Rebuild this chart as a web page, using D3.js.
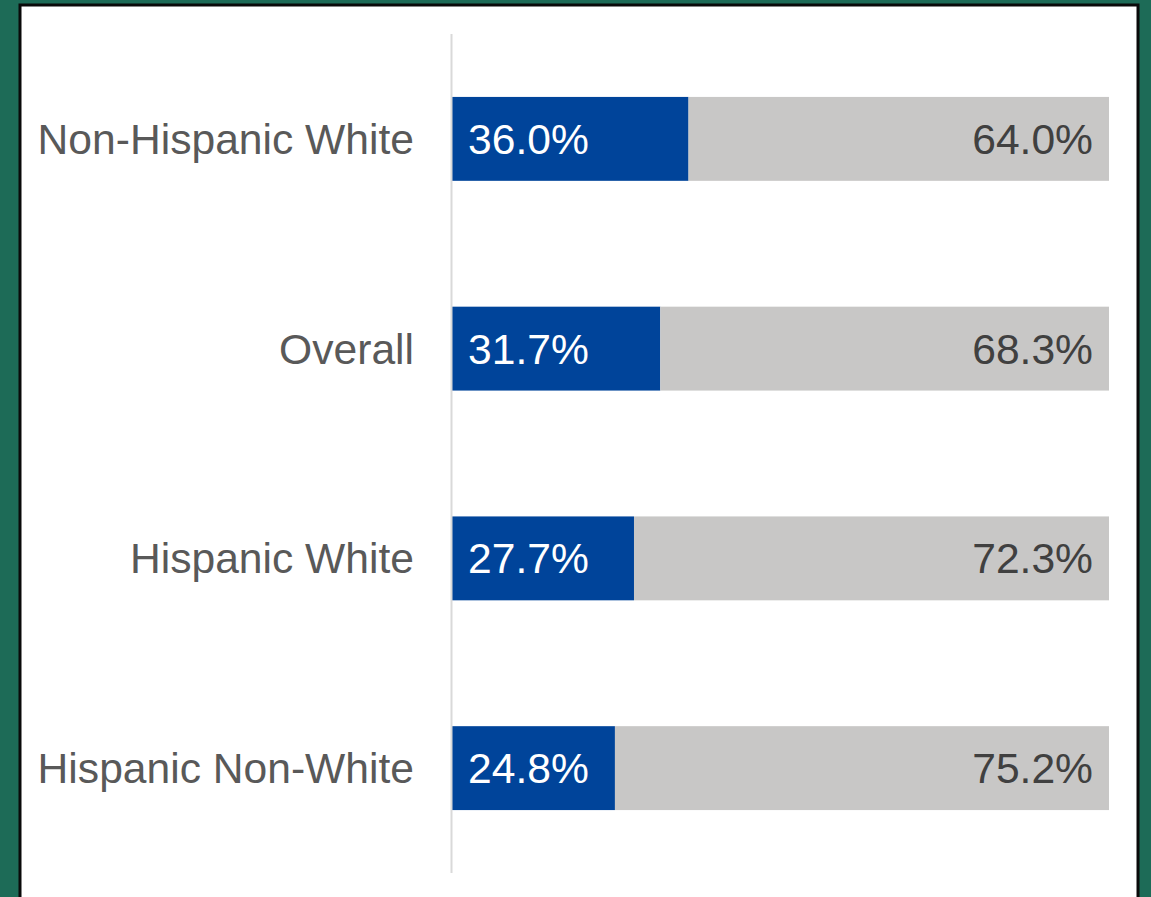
<!DOCTYPE html>
<html><head><meta charset="utf-8">
<script src="https://cdn.jsdelivr.net/npm/d3@7"></script>
<style>
html,body{margin:0;padding:0;background:#1d6b57;}
svg{display:block;}
</style></head>
<body>
<svg id="chart" width="1151" height="897"></svg>
<script>
const categories = ["Non-Hispanic White", "Overall", "Hispanic White", "Hispanic Non-White"];
const blueValues = [36.0, 31.7, 27.7, 24.8];
const grayValues = [64.0, 68.3, 72.3, 75.2];

const svg = d3.select("#chart");
const W = 1151, H = 897;

svg.append("rect").attr("x",0).attr("y",0).attr("width",W).attr("height",H).attr("fill","#1d6b57");
svg.append("rect").attr("x",20).attr("y",5).attr("width",1118).attr("height",H)
  .attr("fill","#ffffff").attr("stroke","#0a0a0a").attr("stroke-width",3);

const x = d3.scaleLinear().domain([0,100]).range([452,1109]);
const y = d3.scaleBand().domain(categories).range([34,873]).paddingInner(0.6).paddingOuter(0.3);

const g = svg.append("g");
const font = "'Liberation Sans', Arial, sans-serif";
const fs = 42.6;

g.selectAll("rect.blue").data(categories).join("rect")
  .attr("x", x(0)).attr("y", d=>y(d))
  .attr("width", (d,i)=>x(blueValues[i])-x(0)).attr("height", y.bandwidth())
  .attr("fill","#00449a");
g.selectAll("rect.gray").data(categories).join("rect")
  .attr("x", (d,i)=>x(blueValues[i])).attr("y", d=>y(d))
  .attr("width", (d,i)=>x(blueValues[i]+grayValues[i])-x(blueValues[i])).attr("height", y.bandwidth())
  .attr("fill","#c8c7c6");

svg.append("line").attr("x1",451.5).attr("x2",451.5).attr("y1",34).attr("y2",873)
  .attr("stroke","#d9d9d9").attr("stroke-width",2);

const yAxis = d3.axisLeft(y).tickSize(0).tickPadding(38);
const ax = svg.append("g").attr("transform","translate(452,0)").call(yAxis);
ax.select(".domain").remove();
ax.selectAll("text").attr("font-family",font).attr("font-size",fs).attr("fill","#595959").attr("dy","0.35em");

g.selectAll("text.bv").data(categories).join("text")
  .attr("x", x(0)+16).attr("y", d=>y(d)+y.bandwidth()/2).attr("dy","0.35em")
  .attr("font-family",font).attr("font-size",fs).attr("fill","#ffffff")
  .text((d,i)=>blueValues[i].toFixed(1)+"%");
g.selectAll("text.gv").data(categories).join("text")
  .attr("x", (d,i)=>x(blueValues[i]+grayValues[i])-16).attr("y", d=>y(d)+y.bandwidth()/2).attr("dy","0.35em")
  .attr("text-anchor","end")
  .attr("font-family",font).attr("font-size",fs).attr("fill","#404040")
  .text((d,i)=>grayValues[i].toFixed(1)+"%");
</script>
</body></html>
